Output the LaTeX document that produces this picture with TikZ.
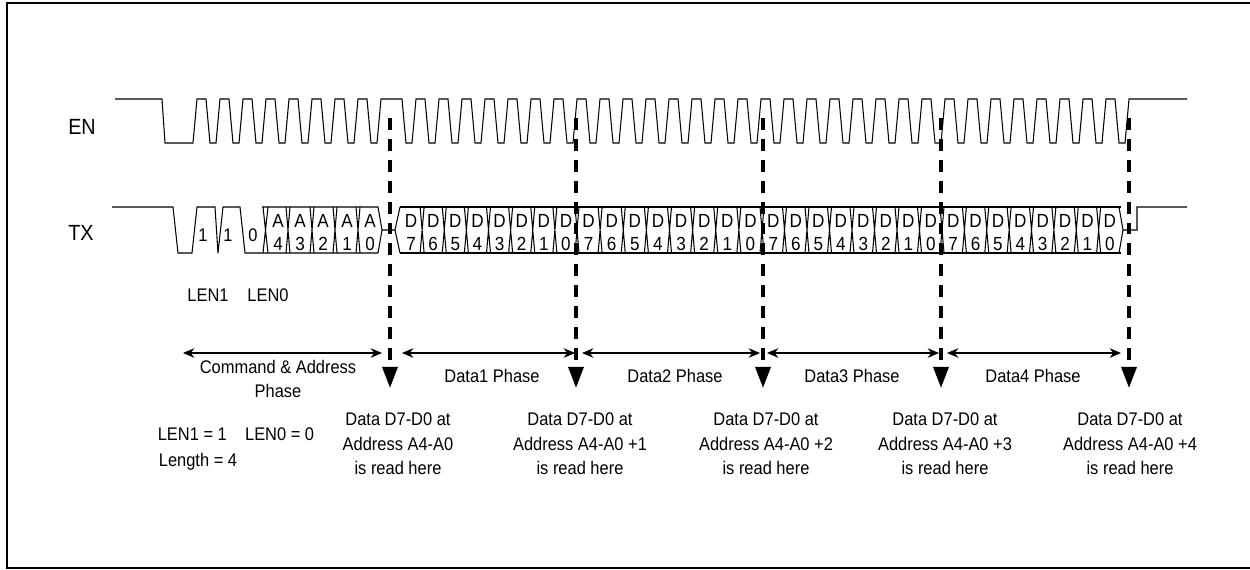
\documentclass[tikz,border=0pt]{standalone}
\usepackage{fontspec}
\setmainfont{Liberation Sans}[FakeStretch=0.9]
\usetikzlibrary{arrows.meta}

\begin{document}
\begin{tikzpicture}[x=0.02cm,y=-0.02cm,
  wave/.style={line width=0.6pt},
  txt/.style={font=\fontsize{10.4}{12}\selectfont, inner sep=0pt},
  sig/.style={font=\fontsize{12.5}{14}\selectfont, inner sep=0pt},
  cell/.style={font=\fontsize{10.8}{13}\selectfont, inner sep=0pt, align=center},
  readtxt/.style={font=\fontsize{10.4}{13.9}\selectfont, inner sep=0pt, align=center},
  phase/.style={line width=0.6pt, {Stealth[length=6.5pt,width=5.5pt]}-{Stealth[length=6.5pt,width=5.5pt]}},
  readline/.style={line width=2pt, dash pattern=on 6.8pt off 5.1pt, -{Triangle[length=12pt,width=8.5pt]}}]
\useasboundingbox (0,0) rectangle (1250,569);
\draw[line width=1.2pt] (7,3) rectangle (1262,568);

% signal names
\node[sig] (en) at (82,127) {EN};
\node[sig] (tx) at (81,233) {TX};

% EN
\draw[wave] (115,99) -- (162,99) -- (165,143) -- (193,143)
  \foreach \k in {0,...,7} { -- ({193+23*\k+4},99) -- ({193+23*\k+13},99) -- ({193+23*\k+17},143) -- ({193+23*\k+23},143) }
  -- (381,99) -- (402,99) -- (406,143) -- (412,143)
  \foreach \k in {0,...,30} { -- ({412+23*\k+4},99) -- ({412+23*\k+13},99) -- ({412+23*\k+17},143) -- ({412+23*\k+23},143) }
  -- (1129,99) -- (1187,99);

% TX: command bits
\draw[wave] (112,207) -- (173,207) -- (178,253) -- (192,253) -- (197,207) -- (215,207) -- (218,253) -- (223,207)
  -- (240,207) -- (245,253) -- (265,253);
\foreach \x/\b [count=\n] in {203/1,228/1,253/0}
  \node[txt] (bit\n) at (\x,235) {\b};

% TX: address
\draw[wave] (262,207) -- (378,207) -- (382,230) -- (378,253) -- (265,253);
\draw[wave] (263,207) -- (268,253) (263,253) -- (268,207);
\foreach \x in {288,312,335,358}
  \draw[wave] ({\x-2},207) -- ({\x+2},253) ({\x-2},253) -- ({\x+2},207);
\foreach \x/\d in {278/4,300/3,323/2,347/1,370/0}
  \node[cell] (a\d) at (\x,232.5) {A\\\d};
\draw[wave] (382,230) -- (395,230) -- (400,207) (395,230) -- (400,253);

% TX: data
\foreach \s/\e [count=\p] in {400/577,577/762,762/942,942/1121} {
  \draw[wave] (\s,207) -- (\e,207) (\s,253) -- (\e,253);
  \foreach \i in {0,...,7} {
    \pgfmathtruncatemacro\bit{7-\i}
    \node[cell] (d\p\bit) at ({\s+(\e-\s)*(\i+0.5)/8},232.5) {D\\\bit};
  }
  \foreach \i in {1,...,7}
    \draw[wave] ({\s+(\e-\s)*\i/8-2},207) -- ({\s+(\e-\s)*\i/8+2},253) ({\s+(\e-\s)*\i/8-2},253) -- ({\s+(\e-\s)*\i/8+2},207);
}
\foreach \x in {577,762,942}
  \draw[wave] ({\x-2},207) -- ({\x+2},253) ({\x-2},253) -- ({\x+2},207);
\draw[wave] (1119,207) -- (1123,230) -- (1119,253) (1123,230) -- (1137,230) -- (1137,207) -- (1187,207);

% read points
\foreach \x [count=\n] in {390,576,763,941,1129} {
  \coordinate (top\n) at (\x,118);
  \coordinate (tip\n) at (\x,388);
  \draw[readline] (top\n) -- (tip\n);
}

% phases
\foreach \a/\b [count=\n] in {183/382,402/575,582/760,767/939,947/1121} {
  \coordinate (pl\n) at (\a,353);
  \coordinate (pr\n) at (\b,353);
  \draw[phase] (pl\n) -- (pr\n);
}
\node[txt, align=center, font=\fontsize{10.4}{13.6}\selectfont] (cmd) at (278,379) {Command \& Address\\Phase};
\foreach \x/\t in {492/1,675/2,852/3,1033/4}
  \node[txt] (ph\t) at (\x,376) {Data\t\ Phase};

% length bits
\node[txt] (len1) at (208,295) {LEN1};
\node[txt] (len0) at (268,295) {LEN0};
\node[txt] (lenset) at (236,434) {LEN1 = 1\quad LEN0 = 0};
\node[txt] (length) at (198,462) {Length = 4};

% read texts
\node[readtxt] (r1) at (398,444) {Data D7-D0 at\\Address A4-A0\\is read here};
\foreach \x/\o [count=\n from 2] in {580/1,766/2,945/3,1130/4}
  \node[readtxt] (r\n) at (\x,444) {Data D7-D0 at\\Address A4-A0 +\o\\is read here};
\end{tikzpicture}
\end{document}
